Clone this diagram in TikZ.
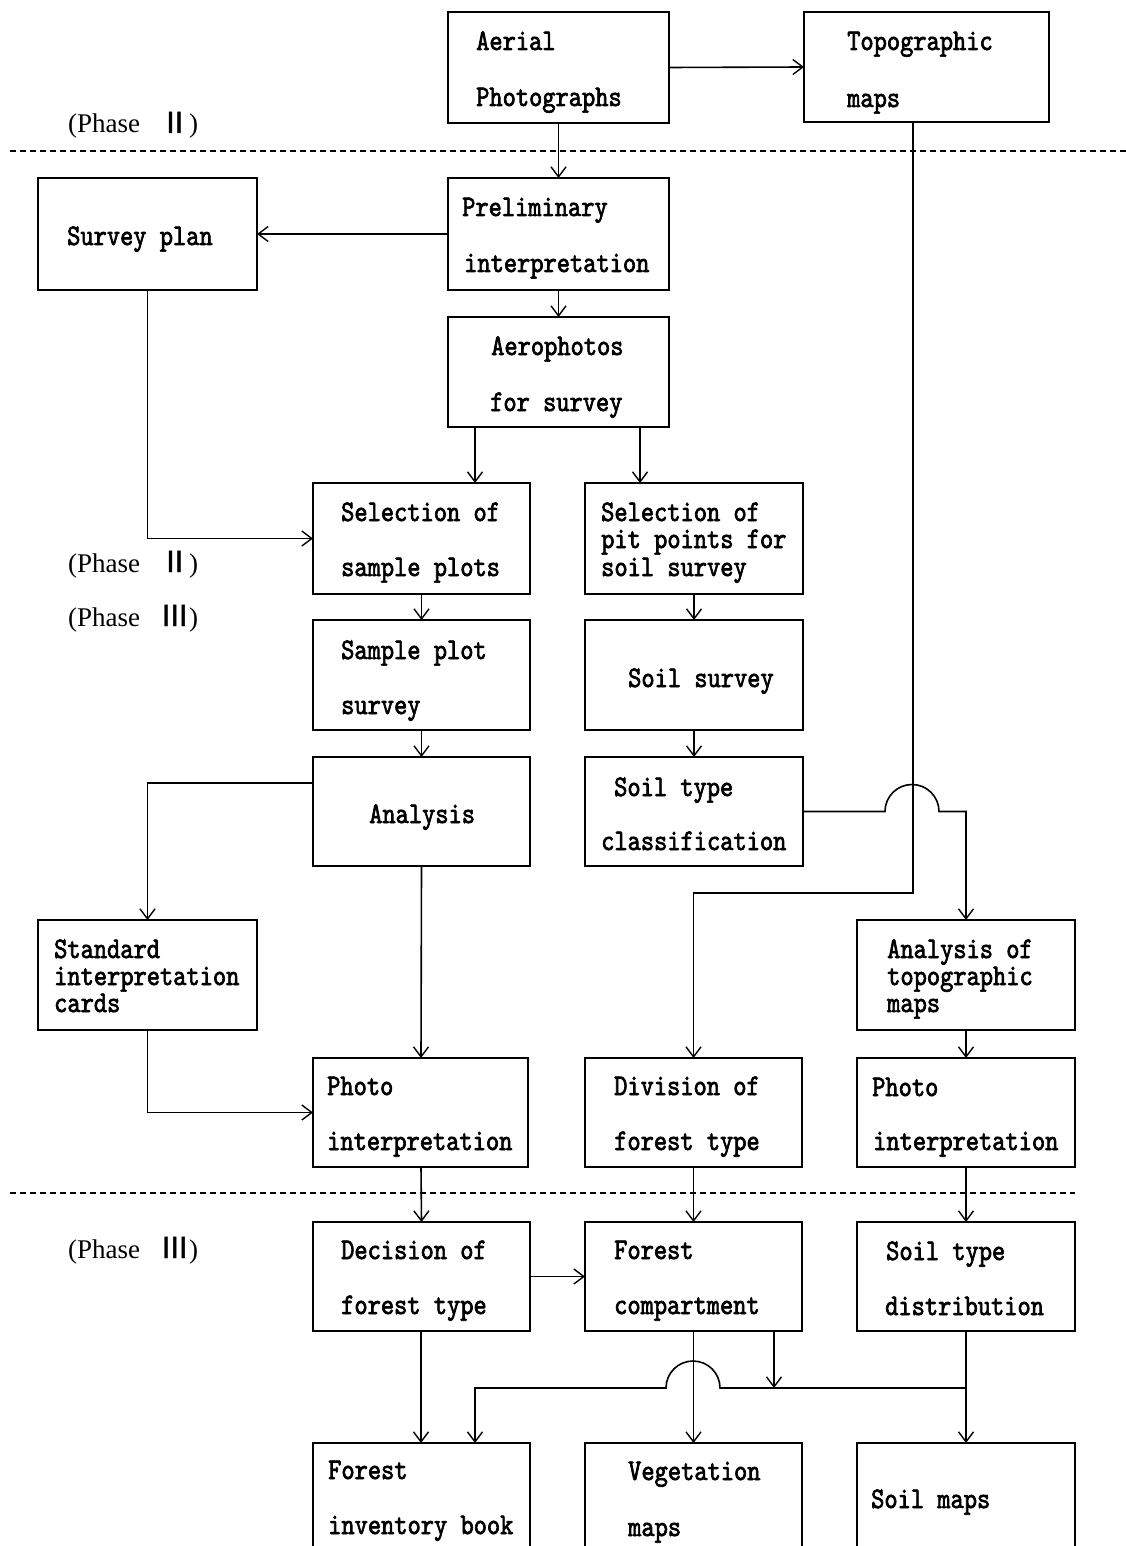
\documentclass[tikz,border=0pt]{standalone}
\usepackage{fontspec}
\usetikzlibrary{arrows.meta}
\newfontfamily\boxfont{lmmono10-regular}[Extension=.otf,FakeStretch=0.84,FakeBold=2.2]
\newfontfamily\phasefont{Liberation Serif}
\newfontfamily\cjk{Noto Sans CJK JP}[FakeBold=1.5]
\newcommand\mkbox[5]{\node[box,anchor=north west,minimum width={#4-#2},minimum height={#5-#3}] (#1) at (#2,#3) {};}
\newcommand\tx[4]{\node[txt] (#1) at (#2,#3) {#4};}
\newcommand\phaselabel[3]{\node[phasetxt] (#1) at (68,#2) {(Phase\hspace{20pt}{\cjk\fontsize{29}{29}\selectfont #3})};}
\tikzset{
  box/.style={draw,line width=1.8pt,inner sep=0pt,outer sep=0pt},
  txt/.style={anchor=base west,inner sep=0pt,text height=18pt,text depth=5pt,font=\boxfont\fontsize{30}{30}\selectfont},
  phasetxt/.style={anchor=base west,inner sep=0pt,font=\phasefont\fontsize{27}{27}\selectfont},
  arr/.style={line width=1.6pt,-{Straight Barb[length=10pt,width=15pt,line width=1.4pt]}},
  sep/.style={line width=1.3pt,dash pattern=on 6pt off 4pt}
}
\begin{document}
\begin{tikzpicture}[x=1pt,y=-1pt]
\fill[white] (0,0) rectangle (1126,1546);
\clip (0,0) rectangle (1126,1546);
% boxes
\mkbox{aer}{448}{12}{669}{123}
\mkbox{topo}{804}{12}{1049}{122}
\mkbox{plan}{38}{178}{257}{290}
\mkbox{pre}{448}{178}{669}{290}
\mkbox{aero}{448}{317}{669}{427}
\mkbox{selA}{313}{483}{530}{594}
\mkbox{selB}{585}{483}{803}{594}
\mkbox{spl}{313}{620}{530}{730}
\mkbox{soil}{585}{620}{803}{730}
\mkbox{ana}{313}{757}{530}{866}
\mkbox{stc}{585}{757}{803}{866}
\mkbox{sic}{38}{920}{257}{1030}
\mkbox{ata}{857}{920}{1075}{1030}
\mkbox{pintA}{313}{1058}{528}{1167}
\mkbox{div}{585}{1058}{802}{1167}
\mkbox{pintB}{857}{1058}{1075}{1167}
\mkbox{dec}{313}{1222}{530}{1331}
\mkbox{comp}{585}{1222}{802}{1331}
\mkbox{std}{857}{1222}{1075}{1331}
\mkbox{fib}{313}{1443}{530}{1570}
\mkbox{veg}{585}{1443}{802}{1570}
\mkbox{smap}{857}{1443}{1075}{1570}
% texts
\tx{t1}{476}{50}{Aerial}
\tx{t2}{476}{106}{Photographs}
\tx{t3}{847}{50}{Topographic}
\tx{t4}{847}{107}{maps}
\tx{t5}{462}{216}{Preliminary}
\tx{t6}{464}{272}{interpretation}
\tx{t7}{67}{245}{Survey plan}
\tx{t8}{491}{355}{Aerophotos}
\tx{t9}{490}{411}{for survey}
\tx{t10}{341}{521}{Selection of}
\tx{t11}{341}{576}{sample plots}
\tx{t12}{601}{521}{Selection of}
\tx{t13}{601}{548}{pit points for}
\tx{t14}{601}{576}{soil survey}
\tx{t15}{341}{659}{Sample plot}
\tx{t16}{341}{714}{survey}
\tx{t17}{628}{687}{Soil survey}
\tx{t18}{369}{823}{Analysis}
\tx{t19}{614}{796}{Soil type}
\tx{t20}{601}{850}{classification}
\tx{t21}{54}{958}{Standard}
\tx{t22}{54}{985}{interpretation}
\tx{t23}{54}{1012}{cards}
\tx{t24}{887}{958}{Analysis of}
\tx{t25}{887}{985}{topographic}
\tx{t26}{887}{1012}{maps}
\tx{t27}{327}{1095}{Photo}
\tx{t28}{327}{1150}{interpretation}
\tx{t29}{614}{1095}{Division of}
\tx{t30}{614}{1150}{forest type}
\tx{t31}{872}{1096}{Photo}
\tx{t32}{873}{1150}{interpretation}
\tx{t33}{341}{1259}{Decision of}
\tx{t34}{341}{1314}{forest type}
\tx{t35}{614}{1259}{Forest}
\tx{t36}{614}{1314}{compartment}
\tx{t37}{886}{1260}{Soil type}
\tx{t38}{885}{1315}{distribution}
\tx{t39}{328}{1479}{Forest}
\tx{t40}{328}{1534}{inventory book}
\tx{t41}{628}{1480}{Vegetation}
\tx{t42}{628}{1536}{maps}
\tx{t43}{871}{1508}{Soil maps}
% phase labels
\phaselabel{p1}{133}{Ⅱ}
\phaselabel{p2}{572}{Ⅱ}
\phaselabel{p3}{626}{Ⅲ}
\phaselabel{p4}{1258}{Ⅲ}
% separators
\draw[sep] (10,151) -- (1126,151);
\draw[sep] (10,1193) -- (1075,1193);
% connectors
\draw[arr] (aer.east) -- (topo.west);
\draw[arr] (aer.south) -- (pre.north);
\draw[arr] (pre.west) -- (plan.east);
\draw[arr] (pre.south) -- (aero.north);
\draw[arr] ([xshift=27pt]aero.south west) -- ([xshift=162pt]selA.north west);
\draw[arr] ([xshift=192pt]aero.south west) -- ([xshift=55pt]selB.north west);
\draw[arr] (plan.south) |- (selA.west);
\draw[arr] (selA.south) -- (spl.north);
\draw[arr] (selB.south) -- (soil.north);
\draw[arr] (spl.south) -- (ana.north);
\draw[arr] (soil.south) -- (stc.north);
\draw[arr] ([yshift=-26pt]ana.north west) -| (sic.north);
\draw[arr] (ana.south) -- ([xshift=108pt]pintA.north west);
\draw[arr] (sic.south) |- (pintA.west);
\draw[arr] ([xshift=109pt]topo.south west) -- (913,893) -| (div.north);
\draw[arr] (stc.east) -- (885,811.5) arc[start angle=180,end angle=0,radius=27pt] -| (ata.north);
\draw[arr] (ata.south) -- ([xshift=109pt]pintB.north west);
\draw[arr] ([xshift=108pt]pintA.south west) -- (dec.north);
\draw[arr] (div.south) -- (comp.north);
\draw[arr] ([xshift=109pt]pintB.south west) -- (std.north);
\draw[arr] (dec.east) -- (comp.west);
\draw[arr] ([xshift=108pt]dec.south west) -- ([xshift=108pt]fib.north west);
\draw[arr] (comp.south) -- (veg.north);
\draw[arr] ([xshift=189pt]comp.south west) -- (774,1388);
\coordinate (jn) at (966,1388);
\draw[arr] (std.south) -- (smap.north);
\draw[arr] (jn) -- (720,1388) arc[start angle=0,end angle=180,radius=27pt] -- (475,1388) -- ([xshift=162pt]fib.north west);
\end{tikzpicture}
\end{document}
